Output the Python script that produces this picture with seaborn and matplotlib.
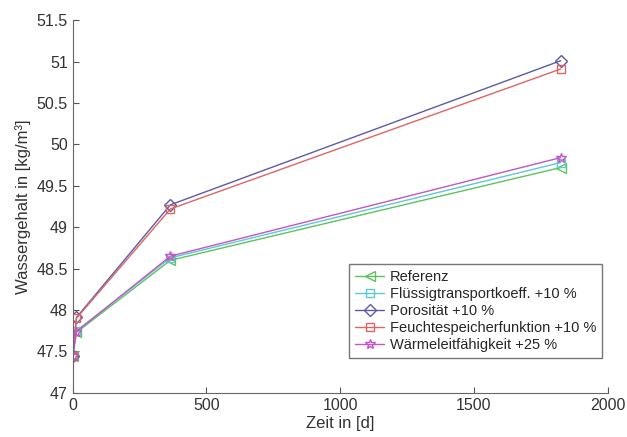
import pandas as pd
import matplotlib
matplotlib.use("Agg")
import matplotlib.pyplot as plt
import seaborn as sns

# data
tage = [0, 14, 365, 1825]
referenz = [47.45, 47.73, 48.60, 49.72]
fluessig = [47.45, 47.75, 48.63, 49.78]
porositaet = [47.45, 47.91, 49.27, 51.01]
feuchte = [47.45, 47.90, 49.22, 50.91]
waerme = [47.45, 47.74, 48.65, 49.84]

namen = ["Referenz", "Flüssigtransportkoeff. +10 %", "Porosität +10 %",
         "Feuchtespeicherfunktion +10 %", "Wärmeleitfähigkeit +25 %"]
werte = [referenz, fluessig, porositaet, feuchte, waerme]
farben = ["#5cc45c", "#5ec8d8", "#5b5ba8", "#e06464", "#c455c4"]
marker = ["<", "s", "D", "s", "*"]
msize = [7, 6, 6, 6, 7]

sns.set_style("ticks")
plt.rcParams['font.family'] = ['Liberation Sans', 'DejaVu Sans']

fig = plt.figure(figsize=(6.27, 4.37), dpi=100)
ax = fig.add_axes([0.116, 0.101, 0.853, 0.853])

for name, w, c, m, s in zip(namen, werte, farben, marker, msize):
    df = pd.DataFrame({"Zeit": tage, "Wasser": w})
    sns.lineplot(data=df, x="Zeit", y="Wasser", ax=ax, color=c, marker=m,
                 markersize=s, markerfacecolor="none", markeredgecolor=c,
                 markeredgewidth=1, linewidth=1, label=name)

ax.set_xlim(0, 2000)
ax.set_ylim(47, 51.5)
ax.set_xticks([0, 500, 1000, 1500, 2000])
ax.set_yticks([47, 47.5, 48, 48.5, 49, 49.5, 50, 50.5, 51, 51.5])
ax.set_yticklabels(["47", "47.5", "48", "48.5", "49", "49.5", "50", "50.5", "51", "51.5"])
ax.tick_params(labelsize=11.5, color="#555555", direction="in", length=4, labelcolor="#333333")
ax.set_xlabel("Zeit in [d]", fontsize=12, color="#333333", labelpad=2)
ax.set_ylabel("Wassergehalt in [kg/m³]", fontsize=12, color="#333333")
for sp in ["top", "right"]:
    ax.spines[sp].set_visible(False)
for sp in ["left", "bottom"]:
    ax.spines[sp].set_color("#666666")

leg = ax.legend(loc="lower right", bbox_to_anchor=(0.99, 0.094), fontsize=10.5,
                frameon=True, fancybox=False, handlelength=2.0, borderpad=0.4,
                labelspacing=0.2, handletextpad=0.4, borderaxespad=0)
leg.get_frame().set_edgecolor("#555555")
leg.get_frame().set_linewidth(1)

fig.savefig("out.png", dpi=100)
